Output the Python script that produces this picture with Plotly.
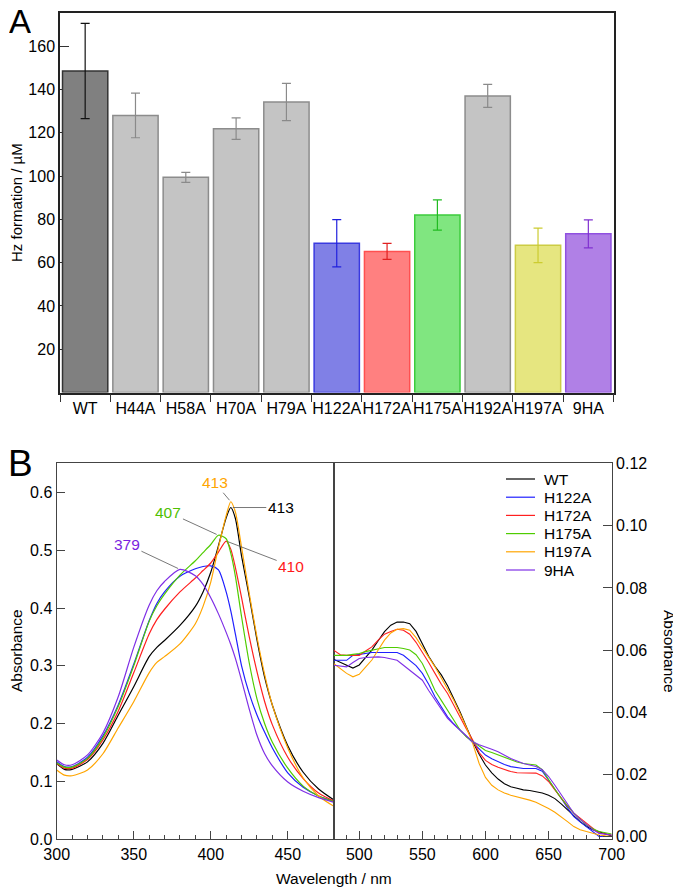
import plotly.graph_objects as go

# ---------------- Panel A data ----------------
categories = ["WT", "H44A", "H58A", "H70A", "H79A", "H122A", "H172A", "H175A", "H192A", "H197A", "9HA"]
hz_formation = [148.5, 128.0, 99.4, 121.9, 134.2, 69.0, 65.2, 82.0, 137.0, 68.0, 73.3]
hz_error = [22.0, 10.3, 2.3, 5.0, 8.6, 10.9, 3.7, 7.0, 5.3, 8.0, 6.5]

# ---------------- Panel B data (left, Soret region) ----------------
wl_left = [300, 305, 310, 320, 330, 340, 350, 360, 365, 370, 380, 390, 395, 400, 405,
           410, 413, 416, 420, 425, 430, 435, 440, 450, 460, 470, 480]
abs_left_WT = [0.131, 0.121, 0.121, 0.134, 0.166, 0.215, 0.264, 0.316, 0.332, 0.344, 0.370, 0.403, 0.428, 0.462, 0.508,
               0.556, 0.574, 0.555, 0.490, 0.420, 0.345, 0.280, 0.232, 0.162, 0.116, 0.087, 0.068]
abs_left_H122A = [0.134, 0.126, 0.126, 0.142, 0.179, 0.233, 0.303, 0.378, 0.408, 0.428, 0.455, 0.468, 0.472, 0.473, 0.466,
                  0.428, 0.395, 0.355, 0.300, 0.252, 0.215, 0.185, 0.158, 0.115, 0.090, 0.075, 0.066]
abs_left_H172A = [0.131, 0.123, 0.123, 0.138, 0.172, 0.222, 0.288, 0.355, 0.380, 0.398, 0.428, 0.452, 0.465, 0.478, 0.497,
                  0.516, 0.502, 0.470, 0.418, 0.350, 0.290, 0.238, 0.198, 0.142, 0.105, 0.080, 0.066]
abs_left_H175A = [0.132, 0.125, 0.125, 0.140, 0.176, 0.230, 0.300, 0.377, 0.404, 0.424, 0.457, 0.482, 0.496, 0.510, 0.526,
                  0.520, 0.495, 0.455, 0.385, 0.305, 0.243, 0.200, 0.168, 0.123, 0.092, 0.075, 0.065]
abs_left_H197A = [0.120, 0.111, 0.110, 0.120, 0.148, 0.193, 0.238, 0.288, 0.306, 0.316, 0.338, 0.373, 0.403, 0.445, 0.505,
                  0.560, 0.584, 0.566, 0.505, 0.425, 0.350, 0.285, 0.232, 0.158, 0.106, 0.075, 0.057]
abs_left_9HA = [0.137, 0.129, 0.129, 0.146, 0.184, 0.247, 0.332, 0.405, 0.430, 0.446, 0.467, 0.456, 0.441, 0.418, 0.390,
                0.358, 0.337, 0.313, 0.275, 0.225, 0.180, 0.148, 0.127, 0.099, 0.083, 0.072, 0.064]

# ---------------- Panel B data (right, Q-band region) ----------------
wl_right = [480, 485, 490, 495, 500, 505, 510, 515, 520, 525, 530, 535, 540, 545, 550,
            555, 560, 565, 570, 575, 580, 585, 590, 595, 600, 605, 610, 615, 620, 625,
            630, 635, 640, 645, 650, 655, 660, 665, 670, 675, 680, 685, 690, 695, 700]
abs_right_WT = [0.0570, 0.0560, 0.0552, 0.0542, 0.0552, 0.0575, 0.0600, 0.0630, 0.0659, 0.0680, 0.0690, 0.0690, 0.0685, 0.0660, 0.0620,
                0.0580, 0.0548, 0.0520, 0.0485, 0.0445, 0.0400, 0.0352, 0.0305, 0.0265, 0.0230, 0.0205, 0.0185, 0.0170, 0.0160, 0.0155,
                0.0150, 0.0148, 0.0145, 0.0140, 0.0133, 0.0122, 0.0105, 0.0085, 0.0065, 0.0048, 0.0033, 0.0022, 0.0015, 0.0008, 0.0002]
abs_right_H122A = [0.0567, 0.0567, 0.0567, 0.0583, 0.0586, 0.0590, 0.0592, 0.0592, 0.0592, 0.0592, 0.0592, 0.0583, 0.0567, 0.0550, 0.0525,
                   0.0490, 0.0450, 0.0418, 0.0385, 0.0362, 0.0342, 0.0320, 0.0300, 0.0280, 0.0262, 0.0250, 0.0240, 0.0232, 0.0225, 0.0221,
                   0.0219, 0.0219, 0.0219, 0.0210, 0.0182, 0.0152, 0.0123, 0.0092, 0.0064, 0.0047, 0.0032, 0.0015, 0.0000, 0.0000, 0.0000]
abs_right_H172A = [0.0599, 0.0585, 0.0583, 0.0583, 0.0583, 0.0597, 0.0610, 0.0632, 0.0651, 0.0660, 0.0667, 0.0664, 0.0651, 0.0625, 0.0594,
                   0.0560, 0.0525, 0.0490, 0.0460, 0.0420, 0.0385, 0.0345, 0.0310, 0.0270, 0.0245, 0.0232, 0.0223, 0.0215, 0.0209, 0.0205,
                   0.0204, 0.0204, 0.0204, 0.0195, 0.0177, 0.0150, 0.0123, 0.0098, 0.0075, 0.0058, 0.0043, 0.0027, 0.0011, 0.0007, 0.0005]
abs_right_H175A = [0.0583, 0.0583, 0.0583, 0.0586, 0.0589, 0.0595, 0.0600, 0.0605, 0.0608, 0.0608, 0.0608, 0.0605, 0.0600, 0.0585, 0.0557,
                   0.0515, 0.0470, 0.0438, 0.0407, 0.0375, 0.0342, 0.0320, 0.0305, 0.0290, 0.0277, 0.0270, 0.0262, 0.0254, 0.0246, 0.0240,
                   0.0235, 0.0232, 0.0230, 0.0215, 0.0182, 0.0152, 0.0123, 0.0098, 0.0075, 0.0055, 0.0037, 0.0025, 0.0016, 0.0012, 0.0008]
abs_right_H197A = [0.0556, 0.0540, 0.0525, 0.0514, 0.0522, 0.0545, 0.0568, 0.0600, 0.0632, 0.0655, 0.0667, 0.0669, 0.0664, 0.0640, 0.0610,
                   0.0578, 0.0546, 0.0510, 0.0475, 0.0438, 0.0395, 0.0350, 0.0298, 0.0235, 0.0190, 0.0165, 0.0150, 0.0140, 0.0133, 0.0128,
                   0.0123, 0.0117, 0.0110, 0.0101, 0.0090, 0.0078, 0.0064, 0.0048, 0.0032, 0.0022, 0.0016, 0.0010, 0.0005, 0.0002, 0.0000]
abs_right_9HA = [0.0551, 0.0548, 0.0546, 0.0560, 0.0573, 0.0576, 0.0578, 0.0578, 0.0576, 0.0572, 0.0567, 0.0551, 0.0535, 0.0520, 0.0503,
                 0.0470, 0.0439, 0.0410, 0.0380, 0.0360, 0.0342, 0.0322, 0.0305, 0.0295, 0.0289, 0.0281, 0.0273, 0.0262, 0.0251, 0.0243,
                 0.0235, 0.0230, 0.0225, 0.0215, 0.0193, 0.0165, 0.0134, 0.0105, 0.0075, 0.0055, 0.0037, 0.0022, 0.0010, 0.0007, 0.0005]

spectra_names = ["WT", "H122A", "H172A", "H175A", "H197A", "9HA"]
left_series = [abs_left_WT, abs_left_H122A, abs_left_H172A, abs_left_H175A, abs_left_H197A, abs_left_9HA]
right_series = [abs_right_WT, abs_right_H122A, abs_right_H172A, abs_right_H175A, abs_right_H197A, abs_right_9HA]

# ---------------- Geometry helpers (page has an 8 px body margin) ----------------
OFF = 8
W, H = 681 - OFF, 891 - OFF


def PX(x):
    return (x - OFF) / W


def PY(y):
    return 1 - (y - OFF) / H


# ---------------- Styles ----------------
FONT = "Liberation Sans, Arial, Helvetica, sans-serif"
bar_fill = ["#808080", "#c4c4c4", "#c4c4c4", "#c4c4c4", "#c4c4c4", "#8080e6",
            "#ff8080", "#80e680", "#c4c4c4", "#e6e680", "#b080e6"]
bar_edge = ["#333333", "#8c8c8c", "#8c8c8c", "#8c8c8c", "#8c8c8c", "#3a3ae0",
            "#ff5050", "#3ccc3c", "#8c8c8c", "#cccc44", "#9050e0"]
err_color = ["#111111", "#8a8a8a", "#8a8a8a", "#8a8a8a", "#8a8a8a", "#2020dd",
             "#e02020", "#22bb22", "#8a8a8a", "#cccc30", "#8030d0"]
line_colors = ["#000000", "#1f1fff", "#ff2020", "#4fcc00", "#ffa500", "#7f2fe6"]

fig = go.Figure()

# Panel A bars
for i, cat in enumerate(categories):
    fig.add_trace(go.Bar(
        x=[cat], y=[hz_formation[i]],
        error_y=dict(type="data", array=[hz_error[i]], color=err_color[i], thickness=1.2, width=4.5),
        marker=dict(color=bar_fill[i], line=dict(color=bar_edge[i], width=1.5)),
        showlegend=False, xaxis="x", yaxis="y", hoverinfo="x+y",
    ))

# Panel B left spectra
for name, ys, col in zip(spectra_names, left_series, line_colors):
    fig.add_trace(go.Scatter(
        x=wl_left, y=ys, mode="lines", name=name,
        line=dict(color=col, width=1.2, shape="spline", smoothing=0.7),
        showlegend=False, xaxis="x2", yaxis="y2",
    ))

# Panel B right spectra
for name, ys, col in zip(spectra_names, right_series, line_colors):
    fig.add_trace(go.Scatter(
        x=wl_right, y=ys, mode="lines", name=name,
        line=dict(color=col, width=1.1, shape="linear"),
        showlegend=False, xaxis="x3", yaxis="y3",
    ))

# Peak labels with leader lines
def peak(series):
    i = max(range(len(series)), key=lambda k: series[k])
    return wl_left[i], series[i]

label_specs = [
    (abs_left_H197A, "413", "#ffa500", -16, -19),
    (abs_left_WT, "413", "#000000", 50, 0),
    (abs_left_H175A, "407", "#4fc000", -50, -23),
    (abs_left_H172A, "410", "#ff1a1a", 65, 25),
    (abs_left_9HA, "379", "#7a1fe0", -53, -25),
]
annotations = []
for series, txt, col, axp, ayp in label_specs:
    px_, py_ = peak(series)
    annotations.append(dict(
        x=px_, y=py_, xref="x2", yref="y2", text=txt, showarrow=True,
        ax=axp, ay=ayp, arrowhead=0, arrowwidth=0.8, arrowcolor="#555555", standoff=2,
        font=dict(family=FONT, size=15.5, color=col),
    ))

# Legend (compact, drawn as key lines + labels in the right half of panel B)
shapes = []
for i, (name, col) in enumerate(zip(spectra_names, line_colors)):
    yy = PY(479 + 18.2 * i)
    shapes.append(dict(type="line", xref="paper", yref="paper", x0=PX(506), x1=PX(535),
                       y0=yy, y1=yy, line=dict(color=col, width=1.2)))
    annotations.append(dict(x=PX(542), y=yy, xref="paper", yref="paper", text=name, showarrow=False,
                            xanchor="left", yanchor="middle",
                            font=dict(family=FONT, size=15.5, color="#000")))

# Panel letters and free titles
annotations += [
    dict(x=PX(20), y=1.0, xref="paper", yref="paper", text="A", showarrow=False,
         font=dict(family=FONT, size=33, color="#000"), xanchor="center", yanchor="top",
         height=31, valign="bottom", borderpad=0),
    dict(x=PX(20), y=PY(463), xref="paper", yref="paper", text="B", showarrow=False,
         font=dict(family=FONT, size=37, color="#000"), xanchor="center", yanchor="middle"),
    dict(x=PX(16), y=PY(203), xref="paper", yref="paper", text="Hz formation / µM", showarrow=False,
         textangle=-90, font=dict(family=FONT, size=15, color="#000"), xanchor="center", yanchor="middle"),
    dict(x=PX(16), y=PY(651), xref="paper", yref="paper", text="Absorbance", showarrow=False,
         textangle=-90, font=dict(family=FONT, size=15.5, color="#000"), xanchor="center", yanchor="middle"),
    dict(x=PX(334), y=PY(878), xref="paper", yref="paper", text="Wavelength / nm", showarrow=False,
         font=dict(family=FONT, size=15.5, color="#000"), xanchor="center", yanchor="middle"),
    dict(x=PX(670), y=PY(651), xref="paper", yref="paper", text="Absorbance", showarrow=False,
         textangle=90, font=dict(family=FONT, size=15.5, color="#000"), xanchor="center", yanchor="middle"),
]

tickfont = dict(family=FONT, size=16, color="#000")

fig.update_layout(
    width=W, height=H,
    margin=dict(l=0, r=0, t=0, b=0, autoexpand=False),
    paper_bgcolor="white", plot_bgcolor="white",
    barmode="overlay", bargap=0.1, showlegend=False,
    font=dict(family=FONT, size=15.5, color="#000"),
    annotations=annotations, shapes=shapes,
    xaxis=dict(domain=[PX(60), PX(613.5)], anchor="y", type="category", automargin=False,
               range=[-0.5, len(categories) - 0.5], tickson="boundaries", tickangle=0,
               ticks="outside", ticklen=8, tickcolor="#333", tickwidth=1.2,
               showline=True, mirror=True, linecolor="#222", linewidth=1.5,
               showgrid=False, tickfont=dict(family=FONT, size=16, color="#000")),
    yaxis=dict(domain=[PY(392.6), PY(13)], anchor="x", range=[0, 175.3], automargin=False,
               tickvals=[20, 40, 60, 80, 100, 120, 140, 160],
               ticks="inside", ticklen=9, tickcolor="#333", tickwidth=1.2, layer="below traces",
               showline=True, mirror=True, linecolor="#222", linewidth=1.5,
               showgrid=False, zeroline=False, tickfont=tickfont),
    xaxis2=dict(domain=[PX(56.7), PX(334)], anchor="y2", range=[300, 480], automargin=False,
                tickvals=[300, 350, 400, 450], ticks="inside", ticklen=8, tickcolor="#444", tickwidth=1.2,
                minor=dict(dtick=10, tick0=300, ticks="inside", ticklen=4, tickcolor="#444", tickwidth=1),
                showline=True, mirror=True, linecolor="#444", linewidth=1.3,
                showgrid=False, zeroline=False, tickfont=tickfont),
    yaxis2=dict(domain=[PY(839.3), PY(463.3)], anchor="x2", range=[0, 0.6505], automargin=False,
                tickvals=[0, 0.1, 0.2, 0.3, 0.4, 0.5, 0.6],
                ticktext=["0.0", "0.1", "0.2", "0.3", "0.4", "0.5", "0.6"],
                ticks="inside", ticklen=8, tickcolor="#444", tickwidth=1.2,
                showline=True, mirror=True, linecolor="#444", linewidth=1.3,
                showgrid=False, zeroline=False, tickfont=tickfont),
    xaxis3=dict(domain=[PX(334), PX(611.7)], anchor="y3", range=[480, 700.01], automargin=False,
                tickvals=[500, 550, 600, 650, 700], ticks="inside", ticklen=8, tickcolor="#444", tickwidth=1.2,
                minor=dict(dtick=10, tick0=480, ticks="inside", ticklen=4, tickcolor="#444", tickwidth=1),
                showline=True, mirror=True, linecolor="#444", linewidth=1.3,
                showgrid=False, zeroline=False, tickfont=tickfont),
    yaxis3=dict(domain=[PY(839.3), PY(463.3)], anchor="x3", side="right", automargin=False,
                range=[-0.0009, 0.1201], tickvals=[0, 0.02, 0.04, 0.06, 0.08, 0.10, 0.12],
                tickformat=".2f", ticks="inside", ticklen=9, tickcolor="#444", tickwidth=1.2,
                showline=True, mirror=True, linecolor="#444", linewidth=1.3,
                showgrid=False, zeroline=False, tickfont=tickfont),
)

fig.write_html("out.html")
